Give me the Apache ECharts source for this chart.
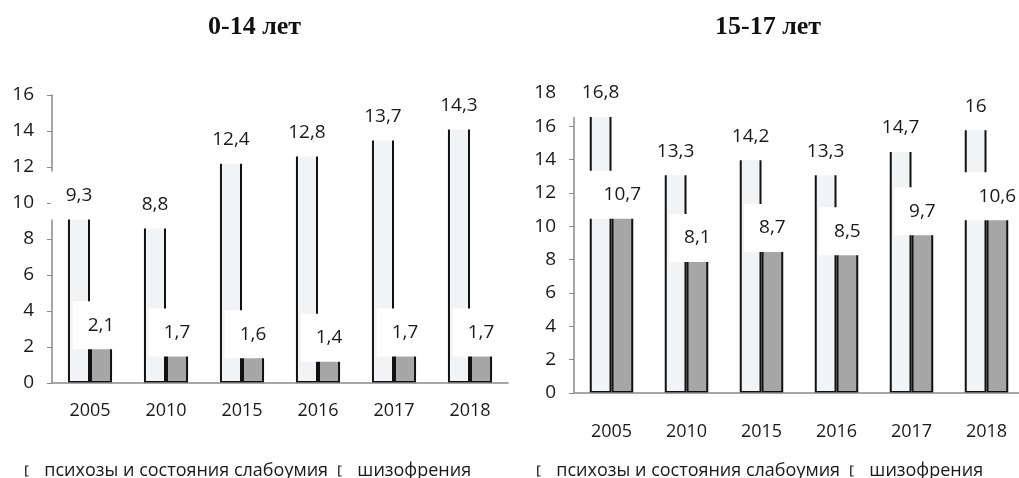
<!DOCTYPE html>
<html>
<head>
<meta charset="utf-8">
<script src="https://cdn.jsdelivr.net/npm/echarts@6/dist/echarts.min.js"></script>
<style>
  html, body { margin: 0; padding: 0; background: #fff; }
  #main { width: 1019px; height: 478px; }
</style>
</head>
<body>
<div id="main"></div>
<script>
// данные
const years = ['2005', '2010', '2015', '2016', '2017', '2018']
const psychosis0_14 = [9.3, 8.8, 12.4, 12.8, 13.7, 14.3]
const schizo0_14 = [2.1, 1.7, 1.6, 1.4, 1.7, 1.7]
const psychosis15_17 = [16.8, 13.3, 14.2, 13.3, 14.7, 16]
const schizo15_17 = [10.7, 8.1, 8.7, 8.5, 9.7, 10.6]

const nameA = 'психозы и состояния слабоумия'
const nameB = 'шизофрения'

const font = 'Open Sans'
const axisColor = '#8a8a8a'

const chart = echarts.init(document.getElementById('main'))

// подпись значения в белой плашке
const label = {
  show: true,
  position: 'top',
  distance: 0,
  offset: [-3, 4],
  backgroundColor: '#fff',
  padding: [15, 9, 15, 15],
  lineHeight: 18,
  fontFamily: font,
  fontSize: 19,
  color: '#1a1a1a',
  formatter: (p) => String(p.value).replace('.', ',')
}

function xAxis(gridIndex, margin) {
  return {
    type: 'category',
    gridIndex,
    z: 5,
    data: years,
    axisLine: { lineStyle: { color: axisColor, width: 1.5 } },
    axisTick: { length: 6, lineStyle: { color: axisColor } },
    axisLabel: { fontFamily: font, fontSize: 18, color: '#1a1a1a', margin }
  }
}

function yAxis(gridIndex, max) {
  return {
    type: 'value',
    gridIndex,
    min: 0,
    max,
    interval: 2,
    splitLine: { show: false },
    axisLine: { show: true, lineStyle: { color: axisColor, width: 1.5 } },
    axisTick: { show: true, length: 5, lineStyle: { color: axisColor } },
    axisLabel: { fontFamily: font, fontSize: 19, color: '#1a1a1a', margin: 18 }
  }
}

function bars(name, data, idx, color) {
  return {
    name,
    type: 'bar',
    xAxisIndex: idx,
    yAxisIndex: idx,
    data,
    barWidth: '29%',
    barGap: '0%',
    itemStyle: { color, borderColor: '#111', borderWidth: 2 },
    label
  }
}

const legendBase = {
  data: [nameA, nameB],
  top: 457,
  icon: 'path://M0,0H4V1.2H1.6V10.8H4V12H0Z',
  itemWidth: 5,
  itemHeight: 11,
  itemGap: 10,
  itemStyle: { color: '#333', borderWidth: 0 },
  textStyle: { fontFamily: font, fontSize: 18, color: '#1a1a1a', padding: [0, 0, 0, 10] }
}

const option = {
  animation: false,
  title: [
    {
      text: '0-14 лет',
      left: 203,
      top: 9,
      textStyle: { fontFamily: 'Liberation Serif', fontWeight: 'bold', fontSize: 26, color: '#111' }
    },
    {
      text: '15-17 лет',
      left: 710,
      top: 9,
      textStyle: { fontFamily: 'Liberation Serif', fontWeight: 'bold', fontSize: 26, color: '#111' }
    }
  ],
  legend: [
    Object.assign({}, legendBase, { left: 20 }),
    Object.assign({}, legendBase, { left: 532 })
  ],
  grid: [
    { left: 52, top: 95, width: 456, height: 288, outerBoundsMode: 'none', containLabel: false },
    { left: 574, top: 93, width: 450, height: 300, outerBoundsMode: 'none', containLabel: false }
  ],
  xAxis: [xAxis(0, 19), xAxis(1, 30)],
  yAxis: [yAxis(0, 16), yAxis(1, 18)],
  series: [
    bars(nameA, psychosis0_14, 0, '#f2f3f5'),
    bars(nameB, schizo0_14, 0, '#a6a6a6'),
    bars(nameA, psychosis15_17, 1, '#f2f3f5'),
    bars(nameB, schizo15_17, 1, '#a6a6a6')
  ]
}

chart.setOption(option)
</script>
</body>
</html>
